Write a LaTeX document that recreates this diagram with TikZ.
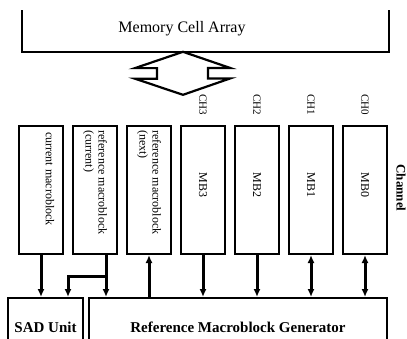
\documentclass[tikz,border=0pt]{standalone}
\usepackage{fontspec}
\setmainfont{Liberation Serif}
\usetikzlibrary{calc,arrows.meta}

\begin{document}
\begin{tikzpicture}[x=1pt,y=-1pt,
  >={Latex[length=8pt,width=7pt]},
  mbox/.style={draw,line width=2pt,minimum width=44pt,minimum height=128pt,inner sep=0pt},
  vtext/.style={rotate=-90,inner sep=0pt,align=left,font=\fontsize{12}{13}\selectfont},
  chtext/.style={rotate=-90,inner sep=0pt,font=\fontsize{11}{12}\selectfont},
  unit/.style={draw,line width=2pt,anchor=north,minimum height=58pt,inner sep=0pt,
    font=\bfseries\fontsize{15}{16}\selectfont},
  arr/.style={line width=3pt}]
  \clip (0,0) rectangle (407,338);
  % memory
  \coordinate (memL) at (22,10);
  \coordinate (memR) at (389,10);
  \draw[line width=2.4pt] (memL) -- ++(0,42) -| (memR);
  \node[font=\fontsize{16}{18}\selectfont] (mem) at (182,29) {Memory Cell Array};
  % bus
  \coordinate (bus) at (183,73.3);
  \draw[line width=2.2pt] ($(bus)+(0,-21.5)$) -- ++(-48,16.3) -- ++(22,0) -- ++(0,10.6)
    -- ++(-22,0) -- ($(bus)+(0,21.5)$) -- ++(47,-16.3) -- ++(-22,0) -- ++(0,-10.6)
    -- ++(22,0) -- cycle;
  % buffers
  \node[mbox] (b1) at (41,190) {};
  \node[mbox] (b2) at (95,190) {};
  \node[mbox] (b3) at (149,190) {};
  \node[mbox] (b4) at (203,190) {};
  \node[mbox] (b5) at (257,190) {};
  \node[mbox] (b6) at (311,190) {};
  \node[mbox] (b7) at (365,190) {};
  \node[vtext,anchor=west] (t1) at ($(b1.north)+(9,7)$) {current macroblock};
  \node[vtext,anchor=west] (t2) at ($(b2.north)+(0,5)$) {reference macroblock\\(current)};
  \node[vtext,anchor=west] (t3) at ($(b3.north)+(0,5)$) {reference macroblock\\(next)};
  \node[vtext] (mb3) at ($(b4)+(0,-5)$) {MB3};
  \node[vtext] (mb2) at ($(b5)+(0,-5)$) {MB2};
  \node[vtext] (mb1) at ($(b6)+(0,-5)$) {MB1};
  \node[vtext] (mb0) at ($(b7)+(0,-5)$) {MB0};
  \node[chtext] (ch3) at ($(b4.north)+(0,-20)$) {CH3};
  \node[chtext] (ch2) at ($(b5.north)+(0,-20)$) {CH2};
  \node[chtext] (ch1) at ($(b6.north)+(0,-20)$) {CH1};
  \node[chtext] (ch0) at ($(b7.north)+(0,-20)$) {CH0};
  \node[vtext,font=\bfseries\fontsize{13}{14}\selectfont] (chan) at (401,188) {Channel};
  % units
  \node[unit,minimum width=75pt] (sad) at (45.5,297) {SAD Unit};
  \node[unit,minimum width=298pt] (rmg) at (238,297) {Reference Macroblock Generator};
  % links
  \coordinate (b2out) at ($(b2.south)+(11,0)$);
  \coordinate (split) at ($(b2out)+(0,21)$);
  \coordinate (sadin) at ($(sad.north)+(22.5,0)$);
  \draw[arr,->] (b1.south) -- (b1.south |- sad.north);
  \draw[arr,->] (b2out) -- (b2out |- rmg.north);
  \draw[arr,->] (split) -| (sadin);
  \draw[arr,<-] (b3.south) -- (b3.south |- rmg.north);
  \draw[arr,->] (b4.south) -- (b4.south |- rmg.north);
  \draw[arr,->] (b5.south) -- (b5.south |- rmg.north);
  \draw[arr,<->] (b6.south) -- (b6.south |- rmg.north);
  \draw[arr,<->] (b7.south) -- (b7.south |- rmg.north);
\end{tikzpicture}
\end{document}
